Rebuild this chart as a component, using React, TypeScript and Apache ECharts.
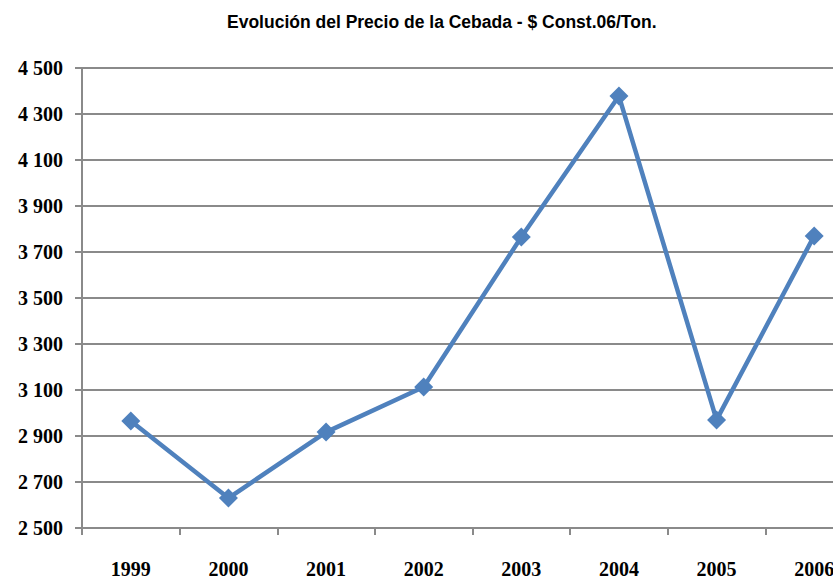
import React, { useEffect, useRef } from "react";
import * as echarts from "echarts";

const titleText = "Evolución del Precio de la Cebada - $ Const.06/Ton.";
const years = ["1999", "2000", "2001", "2002", "2003", "2004", "2005", "2006"];
const prices = [2965, 2630, 2917, 3113, 3765, 4378, 2970, 3770];
const yMin = 2500;
const yMax = 4500;
const yStep = 200;

const fmt = (v: number) => {
  const s = String(Math.round(v));
  return s.replace(/\B(?=(\d{3})+(?!\d))/g, " ");
};

export default function App() {
  const ref = useRef<HTMLDivElement>(null);
  useEffect(() => {
    if (!ref.current) return;
    const chart = echarts.init(ref.current, undefined, { renderer: "svg" });
    const axisGray = "#8a8a8a";
    chart.setOption({
      animation: false,
      backgroundColor: "#ffffff",
      title: {
        text: titleText,
        left: 222,
        top: 8,
        textStyle: {
          fontFamily: "Liberation Sans",
          fontWeight: "bold",
          fontSize: 17.5,
          color: "#000",
        },
      },
      grid: { left: 82, top: 68, bottom: 51, right: 0, containLabel: false },
      xAxis: {
        type: "category",
        data: years,
        boundaryGap: true,
        axisLine: { show: true, lineStyle: { color: axisGray, width: 2 } },
        axisTick: { show: true, length: 7, lineStyle: { color: axisGray, width: 2 } },
        axisLabel: {
          margin: 31,
          fontFamily: "Liberation Serif",
          fontWeight: "bold",
          fontSize: 20,
          color: "#000",
        },
        splitLine: { show: false },
      },
      yAxis: {
        type: "value",
        min: yMin,
        max: yMax,
        interval: yStep,
        axisLine: { show: true, lineStyle: { color: axisGray, width: 2 } },
        axisTick: { show: true, length: 7, lineStyle: { color: axisGray, width: 2 } },
        axisLabel: {
          margin: 19,
          fontFamily: "Liberation Serif",
          fontWeight: "bold",
          fontSize: 20,
          color: "#000",
          formatter: (v: number) => fmt(v),
        },
        splitLine: { show: true, lineStyle: { color: axisGray, width: 2 } },
      },
      series: [
        {
          type: "line",
          data: prices,
          symbol: "diamond",
          symbolSize: 19,
          lineStyle: { color: "#4F81BD", width: 4.5 },
          itemStyle: { color: "#4F81BD" },
          clip: false,
        },
      ],
    });
    return () => chart.dispose();
  }, []);
  return (
    <div style={{ width: 833, height: 579, position: "absolute", left: 0, top: 0, overflow: "hidden" }}>
      <div ref={ref} style={{ width: 863, height: 579 }} />
    </div>
  );
}
